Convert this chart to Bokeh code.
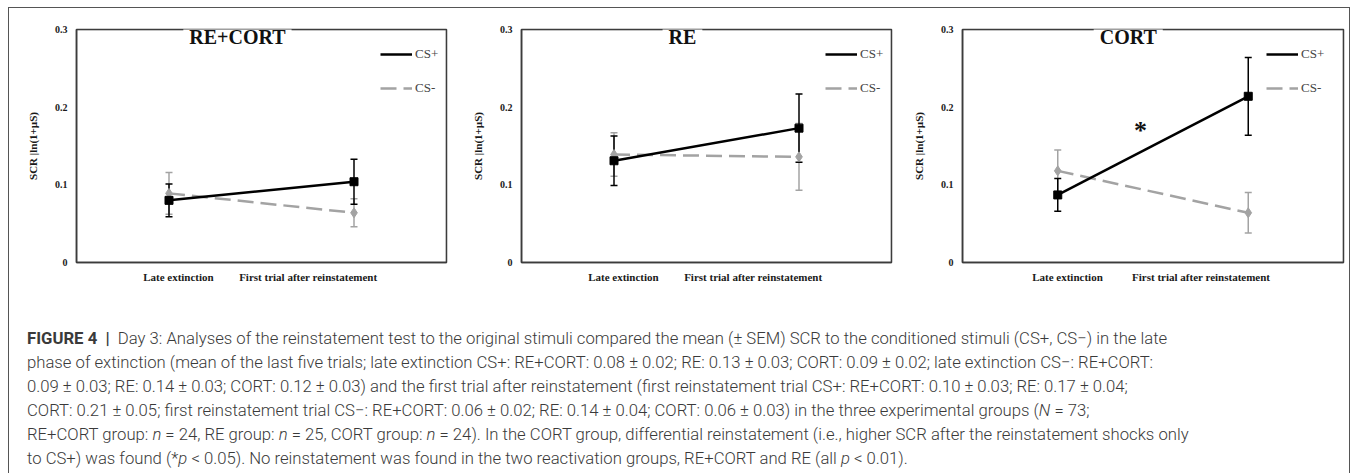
from bokeh.plotting import figure
from bokeh.models import (Range1d, FixedTicker, Whisker, TeeHead, ColumnDataSource,
                          Label, Legend, LegendItem, Div, BoxAnnotation)
from bokeh.layouts import row, column
from bokeh.embed import file_html
from bokeh.resources import INLINE

# ---------------- data ----------------
categories = ["Late extinction", "First trial  after reinstatement"]
groups = ["RE+CORT", "RE", "CORT"]

re_cort_cs_plus = [0.080, 0.104]
re_cort_cs_plus_sem = [0.021, 0.029]
re_cort_cs_minus = [0.089, 0.064]
re_cort_cs_minus_sem = [0.027, 0.018]

re_cs_plus = [0.131, 0.173]
re_cs_plus_sem = [0.032, 0.044]
re_cs_minus = [0.139, 0.136]
re_cs_minus_sem = [0.028, 0.043]

cort_cs_plus = [0.087, 0.214]
cort_cs_plus_sem = [0.021, 0.050]
cort_cs_minus = [0.118, 0.064]
cort_cs_minus_sem = [0.027, 0.026]

y_ticks = [0, 0.1, 0.2, 0.3]
y_tick_labels = ["0", "0.1", "0.2", "0.3"]
series_names = ["CS+", "CS-"]

SERIF = "Liberation Serif"
BLACK = "#000000"
GREY = "#a3a3a3"
FRAME = "#3c3c3c"


def make_panel(title, plus, plus_sem, minus, minus_sem, width, left, right, star=False):
    p = figure(width=width, height=292, x_range=Range1d(0, 2), y_range=Range1d(0, 0.3),
               output_backend="svg", toolbar_location=None,
               min_border_left=left, min_border_right=right,
               min_border_top=21, min_border_bottom=38)
    p.grid.visible = False
    p.outline_line_color = FRAME
    p.outline_line_width = 1.5

    xs = [i + 0.5 for i in range(len(categories))]

    # axes
    p.xaxis.ticker = FixedTicker(ticks=[0.551, 1.26])
    p.xaxis.major_label_overrides = {0.551: categories[0], 1.26: categories[1]}
    p.yaxis.ticker = FixedTicker(ticks=y_ticks)
    p.yaxis.major_label_overrides = {t: l for t, l in zip(y_ticks, y_tick_labels)}
    for ax in (p.xaxis[0], p.yaxis[0]):
        ax.axis_line_color = FRAME
        ax.axis_line_width = 1.5
        ax.major_tick_line_color = None
        ax.minor_tick_line_color = None
        ax.major_tick_out = 0
        ax.major_tick_in = 0
        ax.minor_tick_out = 0
        ax.minor_tick_in = 0
        ax.major_label_text_font = SERIF
        ax.major_label_text_font_style = "bold"
        ax.major_label_text_color = "#1a1a1a"
    p.xaxis.major_label_text_font_size = "11px"
    p.xaxis.major_label_standoff = 8
    p.yaxis.major_label_text_font_size = "10px"
    p.yaxis.major_label_standoff = 9
    p.yaxis.axis_label = "SCR |ln(1+\u00b5S)"
    p.yaxis.axis_label_text_font = SERIF
    p.yaxis.axis_label_text_font_style = "bold"
    p.yaxis.axis_label_text_font_size = "11px"
    p.yaxis.axis_label_text_color = "#1a1a1a"
    p.yaxis.axis_label_standoff = 13

    # frame of the plot area
    p.add_layout(BoxAnnotation(fill_alpha=0, line_color=FRAME, line_width=1.5))

    src_plus = ColumnDataSource(dict(x=xs, y=plus,
                                     upper=[v + e for v, e in zip(plus, plus_sem)],
                                     lower=[v - e for v, e in zip(plus, plus_sem)]))
    src_minus = ColumnDataSource(dict(x=xs, y=minus,
                                      upper=[v + e for v, e in zip(minus, minus_sem)],
                                      lower=[v - e for v, e in zip(minus, minus_sem)]))

    for src, col in ((src_minus, GREY), (src_plus, BLACK)):
        w = Whisker(source=src, base="x", upper="upper", lower="lower",
                    line_color=col, line_width=1.5,
                    upper_head=TeeHead(size=7, line_color=col, line_width=1.5),
                    lower_head=TeeHead(size=7, line_color=col, line_width=1.5))
        p.add_layout(w)

    l2 = p.line("x", "y", source=src_minus, line_color=GREY, line_width=2.5, line_dash="16 7")
    p.scatter("x", "y", source=src_minus, marker="diamond", size=10,
              fill_color=GREY, line_color=GREY)
    l1 = p.line("x", "y", source=src_plus, line_color=BLACK, line_width=2.5)
    p.scatter("x", "y", source=src_plus, marker="square", size=8,
              fill_color=BLACK, line_color=BLACK)

    legend = Legend(items=[LegendItem(label=series_names[0], renderers=[l1]),
                           LegendItem(label=series_names[1], renderers=[l2])],
                    location=(304, 164), margin=0, padding=0,
                    border_line_color=None, background_fill_color=None,
                    label_text_font=SERIF, label_text_font_size="13px",
                    glyph_width=32, glyph_height=20, label_height=20, spacing=14,
                    label_standoff=3)
    p.add_layout(legend)

    p.add_layout(Label(x=0.87, y=0.29, text=title, text_align="center",
                       text_baseline="middle", text_font=SERIF, text_font_style="bold",
                       text_font_size="20px", text_color="#111111",
                       background_fill_color="white", padding=6))
    if star:
        p.add_layout(Label(x=0.934, y=0.17, text="*", text_align="center",
                           text_baseline="middle", text_font=SERIF, text_font_style="bold",
                           text_font_size="26px", text_color="#111111"))
    return p


p1 = make_panel(groups[0], re_cort_cs_plus, re_cort_cs_plus_sem, re_cort_cs_minus,
                re_cort_cs_minus_sem, 441, 67, 4)
p2 = make_panel(groups[1], re_cs_plus, re_cs_plus_sem, re_cs_minus, re_cs_minus_sem,
                450, 71, 9)
p3 = make_panel(groups[2], cort_cs_plus, cort_cs_plus_sem, cort_cs_minus, cort_cs_minus_sem,
                449, 62, 6, star=True)

caption_lines = [
    "<span style=\"font-weight:700\">FIGURE 4 &nbsp;|</span>&nbsp; Day 3: Analyses of the reinstatement test to the original stimuli compared the mean (\u00b1 SEM) SCR to the conditioned stimuli (CS+, CS\u2212) in the late",
    "phase of extinction (mean of the last five trials; late extinction CS+: RE+CORT: 0.08 \u00b1 0.02; RE: 0.13 \u00b1 0.03; CORT: 0.09 \u00b1 0.02; late extinction CS\u2212: RE+CORT:",
    "0.09 \u00b1 0.03; RE: 0.14 \u00b1 0.03; CORT: 0.12 \u00b1 0.03) and the first trial after reinstatement (first reinstatement trial CS+: RE+CORT: 0.10 \u00b1 0.03; RE: 0.17 \u00b1 0.04;",
    "CORT: 0.21 \u00b1 0.05; first reinstatement trial CS\u2212: RE+CORT: 0.06 \u00b1 0.02; RE: 0.14 \u00b1 0.04; CORT: 0.06 \u00b1 0.03) in the three experimental groups (<i>N</i> = 73;",
    "RE+CORT group: <i>n</i> = 24, RE group: <i>n</i> = 25, CORT group: <i>n</i> = 24). In the CORT group, differential reinstatement (i.e., higher SCR after the reinstatement shocks only",
    "to CS+) was found (*<i>p</i> &lt; 0.05). No reinstatement was found in the two reactivation groups, RE+CORT and RE (all <i>p</i> &lt; 0.01).",
]
caption_html = ("<div style=\"font-family: Roboto, 'Liberation Sans', sans-serif; font-size: 16.7px; "
                "font-weight: 300; line-height: 24px; color: #3a3a3a; white-space: nowrap; "
                "padding: 22px 0 0 13px;\">"
                + "<br>".join(caption_lines) + "</div>")
caption = Div(text=caption_html, width=1340, height=172, styles={"overflow": "hidden"})

layout = column(row(p1, p2, p3), caption, width=1342, height=466,
                styles={"margin-left": "8px", "margin-top": "7px",
                        "box-sizing": "border-box",
                        "border-top": "1px solid #555555", "border-left": "1px solid #555555",
                        "border-right": "1px solid #555555"})

open("out.html", "w").write(file_html(layout, INLINE))
